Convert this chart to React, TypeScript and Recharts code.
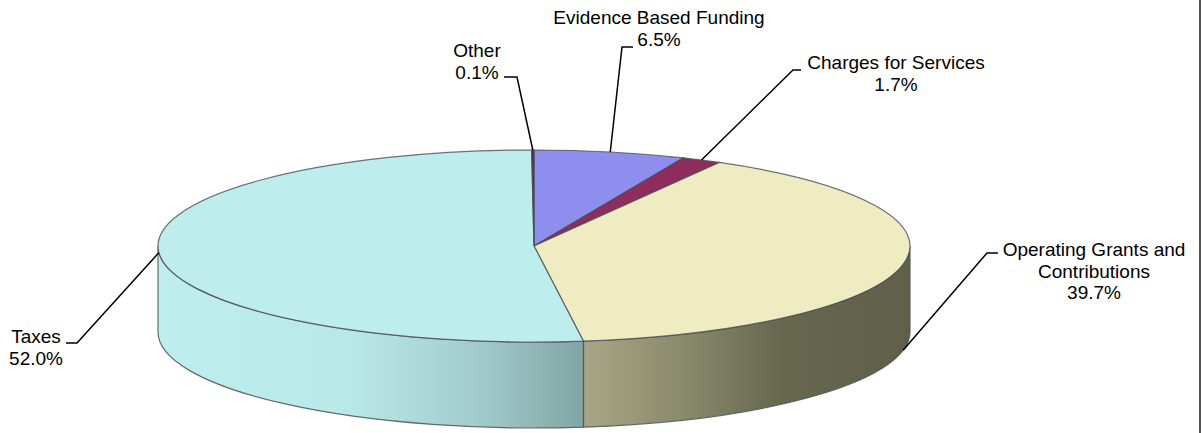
import React from 'react'
import { PieChart, Pie, Cell } from 'recharts'

// clockwise from 12 o'clock, as in the source chart
const categories = ['Evidence Based Funding', 'Charges for Services', 'Operating Grants and Contributions', 'Taxes', 'Other']
const shares = [6.5, 1.7, 39.7, 52.0, 0.1]
const topColors = ['#8e8eee', '#8e2c5e', '#eeecc0', '#bdeeed', '#5a2466']

const data = categories.map((name, i) => ({ name, value: shares[i] }))

const CX = 534
const CY = 246
const RX = 376
const RY = 96
const DEPTH = 86
const FONT = 'Liberation Sans, Arial, sans-serif'

// label layout: leader elbow, leader end, text anchor (first baseline)
const LABEL_LAYOUT: Record<string, { elbow: [number, number]; end: [number, number]; text: [number, number]; lines: string[]; dy?: number }> = {
  'Evidence Based Funding': { elbow: [622, 47], end: [633, 47], text: [659, 24], lines: ['Evidence Based Funding'] },
  'Charges for Services': { elbow: [793, 70], end: [801, 70], text: [896, 69], lines: ['Charges for Services'] },
  'Operating Grants and Contributions': { elbow: [987, 253], end: [998, 253], text: [1094, 256], lines: ['Operating Grants and', 'Contributions'], dy: DEPTH },
  Taxes: { elbow: [77, 343], end: [66, 343], text: [36, 343], lines: ['Taxes'] },
  Other: { elbow: [517, 77], end: [504, 77], text: [477, 57], lines: ['Other'] },
}

const RAD = Math.PI / 180
const pt = (a: number, dy = 0) => [CX + RX * Math.cos(a * RAD), CY - RY * Math.sin(a * RAD) + dy]

function SliceShape(props: any) {
  const { startAngle, endAngle, fill, index } = props
  const s = pt(startAngle)
  const e = pt(endAngle)
  const large = Math.abs(startAngle - endAngle) > 180 ? 1 : 0
  const top = `M${CX},${CY} L${s[0]},${s[1]} A${RX},${RY} 0 ${large} 1 ${e[0]},${e[1]} Z`

  // visible front wall: angles between -180 and 0
  const hi = Math.min(startAngle, 0)
  const lo = Math.max(endAngle, -180)
  let side: string | null = null
  if (hi > lo) {
    const a = pt(hi)
    const b = pt(lo)
    const bb = pt(lo, DEPTH)
    const ab = pt(hi, DEPTH)
    side = `M${a[0]},${a[1]} A${RX},${RY} 0 0 1 ${b[0]},${b[1]} L${bb[0]},${bb[1]} A${RX},${RY} 0 0 0 ${ab[0]},${ab[1]} Z`
  }
  return (
    <g>
      {side && <path d={side} fill={`url(#side${index})`} stroke="#4e5454" strokeWidth={1.2} strokeOpacity={0.85} />}
      <path d={top} fill={fill} stroke="#4c4c56" strokeWidth={1.2} strokeOpacity={0.8} />
    </g>
  )
}

function SliceLabel(props: any) {
  const { midAngle, name, value } = props
  const lay = LABEL_LAYOUT[name]
  if (!lay) return null
  const a = pt(midAngle, lay.dy ?? 0)
  const lines = [...lay.lines, `${Number(value).toFixed(1)}%`]
  return (
    <g>
      <polyline
        points={`${a[0]},${a[1]} ${lay.elbow[0]},${lay.elbow[1]} ${lay.end[0]},${lay.end[1]}`}
        fill="none"
        stroke="#000"
        strokeWidth={1.5}
      />
      <text x={lay.text[0]} y={lay.text[1]} textAnchor="middle" fontFamily={FONT} fontSize={19} fill="#000">
        {lines.map((l, i) => (
          <tspan key={i} x={lay.text[0]} dy={i === 0 ? 0 : 21.7}>
            {l}
          </tspan>
        ))}
      </text>
    </g>
  )
}

export default function App() {
  return (
    <div style={{ position: 'absolute', left: 0, top: 0, width: 1201, height: 433, background: '#fff' }}>
      <PieChart width={1201} height={433} margin={{ top: 0, right: 0, bottom: 0, left: 0 }}>
        <defs>
          <linearGradient id="side2" x1="0" y1="0" x2="1" y2="0">
            <stop offset="0" stopColor="#a8a686" />
            <stop offset="0.3" stopColor="#8a8a6c" />
            <stop offset="0.6" stopColor="#68684f" />
            <stop offset="1" stopColor="#5f5f4a" />
          </linearGradient>
          <linearGradient id="side3" x1="0" y1="0" x2="1" y2="0">
            <stop offset="0" stopColor="#bfeeee" />
            <stop offset="0.45" stopColor="#b9e8e8" />
            <stop offset="0.75" stopColor="#a2cccc" />
            <stop offset="1" stopColor="#82a4a4" />
          </linearGradient>
        </defs>
        <Pie
          data={data}
          dataKey="value"
          nameKey="name"
          cx={CX}
          cy={CY}
          outerRadius={RX}
          startAngle={90}
          endAngle={-270}
          stroke="none"
          shape={SliceShape}
          label={SliceLabel}
          labelLine={false}
          isAnimationActive={false}
        >
          {data.map((d, i) => (
            <Cell key={d.name} fill={topColors[i]} />
          ))}
        </Pie>
      </PieChart>
      <div style={{ position: 'absolute', left: 1199, top: 0, width: 2, height: 433, background: '#555' }} />
    </div>
  )
}
